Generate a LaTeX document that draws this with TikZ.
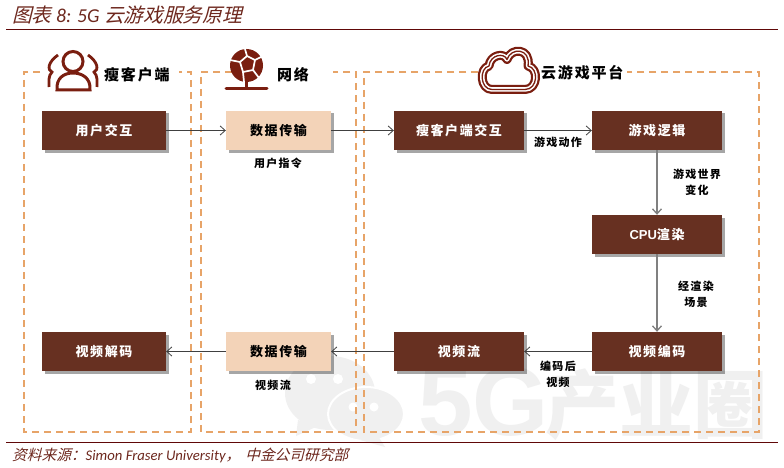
\documentclass[tikz,border=0pt]{standalone}
\usepackage{fontspec}
\setmainfont{Liberation Sans}
\newfontfamily\cjk[LetterSpace=12]{Noto Sans CJK SC}
\newfontfamily\cjknote[LetterSpace=12]{Noto Sans CJK SC}
\newfontfamily\cjkplain{Noto Sans CJK SC}
\newfontfamily\cjkit[FakeSlant=0.25]{Noto Sans CJK SC}
\newfontfamily\latit{Carlito}
\definecolor{GameBrown}{RGB}{103, 48, 33}
\definecolor{GameSand}{RGB}{243, 211, 184}
\definecolor{GameDash}{RGB}{231, 164, 104}
\definecolor{GameRed}{RGB}{122, 30, 16}
\definecolor{GameRule}{RGB}{96, 8, 8}
\definecolor{GameTitle}{RGB}{110, 40, 30}
\definecolor{GameMark}{RGB}{240, 240, 240}
\usetikzlibrary{arrows.meta, positioning, shadows}
\begin{document}
\begin{tikzpicture}[x=1pt, y=-1pt,
	box/.style={draw=none, minimum height=39pt, inner sep=0pt, align=center,
		drop shadow={shadow xshift=2.5pt, shadow yshift=-2.5pt, fill=black, opacity=0.35},
		font=\cjk\bfseries\fontsize{13}{15}\selectfont},
	dark/.style={box, fill=GameBrown, text=white},
	sand/.style={box, fill=GameSand, text=black},
	frame/.style={GameDash, line width=1.2pt, dash pattern=on 7pt off 5pt},
	conn/.style={-{Straight Barb[length=5pt, width=9pt]}, line width=0.8pt, draw=black!75},
	connv/.style={conn, line width=1.3pt, draw=black!50},
	head/.style={inner sep=0pt, font=\cjk\bfseries\fontsize{15}{17}\selectfont},
	note/.style={inner sep=0pt, align=center, font=\cjknote\bfseries\fontsize{11}{16}\selectfont},
	rule/.style={GameRule, line width=0.9pt}]
	\useasboundingbox (0,0) rectangle (784,468);
	\fill[white] (0,0) rectangle (784,468);

	% watermark
	\fill[GameMark] (330,393) ellipse (45 and 37);
	\fill[GameMark] (298,420) -- (296,436) -- (318,426) -- cycle;
	\draw[white, line width=2pt, fill=GameMark] (366,414) ellipse (38 and 27);
	\fill[GameMark] (378,436) -- (385,447) -- (360,440) -- cycle;
	\foreach \ex/\ey/\er in {311/379/5, 338/379/5, 353/407/4.5, 374/407/4.5}
		\fill[white] (\ex,\ey) circle (\er);
	\node[inner sep=0pt, anchor=west, text=GameMark, font=\bfseries\fontsize{98}{98}\selectfont] (markfive) at (418,402) {5G};
	\node[inner sep=0pt, anchor=east, text=GameMark, font=\cjkplain\bfseries\fontsize{74}{74}\selectfont] (markzone) at (768,405) {产业圈};

	\draw[frame] (40,72) -- (24,72) -- (24,432) -- (191,432) -- (191,72) -- (179,72);
	\draw[frame] (232,72) -- (201,72) -- (201,432) -- (356,432) -- (356,72) -- (333,72);
	\draw[frame] (478,72) -- (364,72) -- (364,432) -- (759,432) -- (759,72) -- (627,72);

	\node[dark, minimum width=124pt] (ux) at (104,130.5) {用户交互};
	\node[sand, minimum width=105pt] (netup) at (278.5,130.5) {数据传输};
	\node[dark, minimum width=130pt] (thinux) at (459,130.5) {瘦客户端交互};
	\node[dark, minimum width=130pt] (logic) at (657,130.5) {游戏逻辑};
	\node[dark, minimum width=130pt] (cpu) at (657,234.5) {{\rmfamily CPU}渲染};
	\node[dark, minimum width=130pt] (encode) at (657,351.5) {视频编码};
	\node[dark, minimum width=130pt] (stream) at (459,351.5) {视频流};
	\node[sand, minimum width=105pt] (netdown) at (278.5,351.5) {数据传输};
	\node[dark, minimum width=124pt] (decode) at (104,351.5) {视频解码};

	\draw[conn] (ux) -- (netup);
	\draw[conn] (netup) -- (thinux);
	\draw[conn] (thinux) -- (logic);
	\draw[connv] (logic) -- (cpu);
	\draw[connv] (cpu) -- (encode);
	\draw[conn] (encode) -- (stream);
	\draw[conn] (stream) -- (netdown);
	\draw[conn] (netdown) -- (decode);

	\node[note] (cmd) at (278,163) {用户指令};
	\node[note] (act) at (558,142) {游戏动作};
	\node[note] (world) at (697,182.5) {游戏世界\\变化};
	\node[note] (scene) at (696,294) {经渲染\\场景};
	\node[note] (coded) at (558,374) {编码后\\视频};
	\node[note] (flow) at (273,385) {视频流};

	\node[head, anchor=west] (thinhead) at (104,75) {瘦客户端};
	\node[head, anchor=west] (nethead) at (277,75) {网络};
	\node[head, anchor=west] (cloudhead) at (541,73) {云游戏平台};

	% people icon
	\draw[GameRed, line width=3pt] (73,61.5) circle (10);
	\draw[GameRed, line width=3pt] (57,90) .. controls (56,78) and (64,73) .. (73,73) .. controls (82,73) and (91,78) .. (90,90) -- cycle;
	\draw[GameRed, line width=2.8pt] (58,55) .. controls (48,62) and (47,70) .. (52,72) .. controls (48,76) and (49,82) .. (49,87);
	\draw[GameRed, line width=2.8pt] (88,55) .. controls (98,62) and (99,70) .. (94,72) .. controls (98,76) and (97,82) .. (97,87);

	% network icon
	\fill[GameRed] (246.5,65.5) circle (16.5);
	\draw[white, line width=1.7pt] (240,62) -- (247,56) -- (255,60) -- (253,70) -- (243,72) -- cycle
		(247,56) -- (245,49) (255,60) -- (263,56) (253,70) -- (259,78) (243,72) -- (244,82) (240,62) -- (230,60);
	\draw[GameRed, line width=2.5pt] (246.5,81) -- (246.5,89);
	\draw[GameRed, line width=3pt, line cap=round] (226,89) -- (267,89);

	% cloud icon
	\def\cloudpath{(492,89.5) .. controls (480,89.5) and (479,68) .. (489,66) .. controls (490,55) and (504,52) .. (507,59.5) .. controls (511,47) and (531,48) .. (528,66) .. controls (539,68) and (538,89.5) .. (525,89.5) -- cycle}
	\draw[GameRed, line width=9pt, line join=round, fill=white] \cloudpath;
	\draw[white, line width=4.5pt, line join=round] \cloudpath;
	\draw[GameRed, line width=1.3pt, line join=round] \cloudpath;

	\draw[rule] (6,29) -- (778,29);
	\draw[rule] (6,442) -- (778,442);
	\node[inner sep=0pt, anchor=west, text=GameTitle, font=\fontsize{19.7}{21}\selectfont] (title) at (12,15) {\cjkit 图表 \latit\itshape 8: 5G \cjkit 云游戏服务原理};
	\node[inner sep=0pt, anchor=west, text=GameTitle, font=\fontsize{14.7}{16}\selectfont] (source) at (12,455) {\cjkit 资料来源：\latit\itshape Simon Fraser University\cjkit ，\hspace{5pt}中金公司研究部};
\end{tikzpicture}
\end{document}
